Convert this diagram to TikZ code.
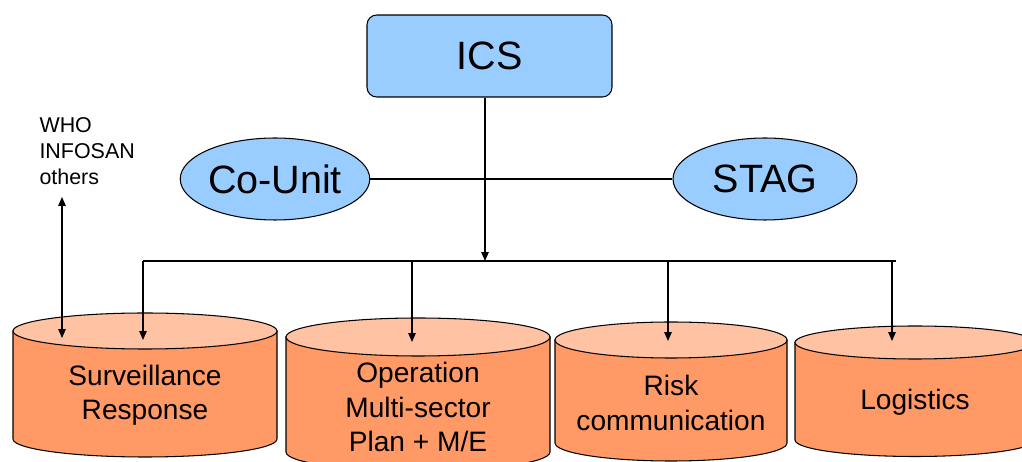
\documentclass[tikz,border=0pt]{standalone}
\usepackage{fontspec}
\setmainfont{Liberation Sans}
\usetikzlibrary{arrows.meta,shapes.geometric}
\definecolor{boxblue}{HTML}{99CCFF}
\definecolor{drumbody}{HTML}{FF9966}
\definecolor{drumtop}{HTML}{FFC2A3}

% drum: centre x, half width, lid centre y, lid half height, base centre y
\newcommand\drumshape[5]{%
  \draw[drum] ({#1-#2},#3) -- ({#1-#2},#5)
    arc[start angle=180,end angle=360,x radius={#2*0.02cm},y radius={#4*0.02cm}]
    -- ({#1+#2},#3) -- cycle;
  \draw[drumlid] (#1,#3) ellipse[x radius={#2*0.02cm},y radius={#4*0.02cm}];
}

\begin{document}
\begin{tikzpicture}[x=0.02cm,y=-0.02cm,
  line width=0.6pt,
  tip/.tip={Triangle[length=5pt,width=4.2pt]},
  arr/.style={-tip},
  dblarr/.style={tip-tip},
  bigtext/.style={font=\fontsize{22.5}{27}\selectfont},
  unit/.style={draw, fill=boxblue, ellipse, inner sep=0pt,
    minimum width=3.68cm, minimum height=1.64cm, bigtext},
  drumlabel/.style={align=center, font=\fontsize{16}{19.6}\selectfont, inner sep=0pt},
  drum/.style={draw, fill=drumbody},
  drumlid/.style={draw, fill=drumtop},
]
\useasboundingbox (0,0) rectangle (1022,462);
\clip (0,0) rectangle (1022,462);

% command level
\node[draw, fill=boxblue, rounded corners=5.5pt, minimum width=4.9cm,
      minimum height=1.64cm, bigtext] (ics) at (489.5,56) {ICS};
\node[unit] (cou) at (275,179) {Co-Unit};
\node[unit] (stag) at (765,179) {STAG};
\draw (cou) -- (stag);

% distribution bus
\coordinate (j) at (485,261);
\coordinate (b1) at (143,261);
\coordinate (b2) at (412,261);
\coordinate (b3) at (668,261);
\coordinate (b4) at (892,261);
\coordinate (bR) at (896,261);
\draw (b1) -- (bR);
\draw[arr] (ics.south -| j) -- (j);

% sections
\drumshape{145}{132}{331}{18}{439}
\drumshape{418}{132}{337}{19}{452}
\drumshape{671}{116}{340}{18}{443}
\drumshape{915}{120}{342.5}{16.5}{440}

\node[drumlabel] (surv) at (145,395) {Surveillance\\Response};
\node[drumlabel] (oper) at (418,407) {Operation\\Multi-sector\\Plan + M/E};
\node[drumlabel] (risk) at (671,403) {Risk\\communication};
\node[drumlabel] (logi) at (915,402) {Logistics};

\coordinate (t1) at (143,340);
\coordinate (t2) at (412,342);
\coordinate (t3) at (668,341);
\coordinate (t4) at (892,341);
\foreach \i in {1,...,4} \draw[arr] (b\i) -- (t\i);

% external partners
\node[align=left, anchor=west, inner sep=0pt,
      font=\fontsize{12.2}{14.7}\selectfont] (ext) at (39,151) {WHO\\INFOSAN\\others};
\coordinate (w1) at (62,197);
\coordinate (w2) at (62,338);
\draw[dblarr] (w1) -- (w2);
\end{tikzpicture}
\end{document}
